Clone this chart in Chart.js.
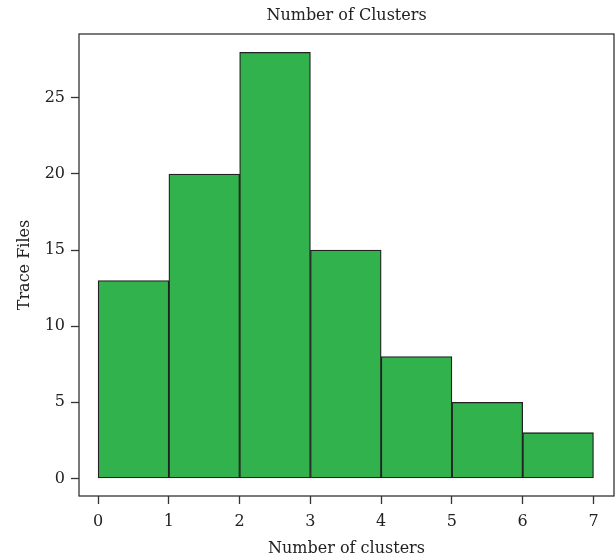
<!DOCTYPE html>
<html>
<head>
<meta charset="utf-8">
<title>Number of Clusters</title>
<script src="https://cdn.jsdelivr.net/npm/chart.js@4.4.1/dist/chart.umd.min.js"></script>
<style>
    html, body { margin: 0; padding: 0; background: #ffffff; }
    #wrap { width: 616px; height: 560px; position: relative; }
</style>
</head>
<body>
<div id="wrap"><canvas id="histChart"></canvas></div>
<script>
// Histogram data: bin edges and counts per bin
const binEdges = [0, 1, 2, 3, 4, 5, 6, 7];
const binCounts = [13, 20, 28, 15, 8, 5, 3];
const xTicks = [0, 1, 2, 3, 4, 5, 6, 7];
const yTicks = [0, 5, 10, 15, 20, 25];

const chartTitle = 'Number of Clusters';
const xLabel = 'Number of clusters';
const yLabel = 'Trace Files';

const serif = "'DejaVu Serif', 'Liberation Serif', serif";
const inkColor = '#222222';

// Bars are centred in their bins on a linear x scale
const barPoints = binCounts.map((count, i) => ({
    x: (binEdges[i] + binEdges[i + 1]) / 2,
    y: count
}));

// Draws the frame round the plot area and the title over its centre
const framePlugin = {
    id: 'frame',
    afterDraw: function (chart) {
        const ctx = chart.ctx;
        const area = chart.chartArea;
        ctx.save();
        ctx.strokeStyle = '#333333';
        ctx.lineWidth = 1.3;
        ctx.strokeRect(area.left, area.top, area.right - area.left, area.bottom - area.top);
        ctx.fillStyle = inkColor;
        ctx.font = '16px ' + serif;
        ctx.textAlign = 'center';
        ctx.textBaseline = 'middle';
        ctx.fillText(chartTitle, (area.left + area.right) / 2, 16);
        ctx.restore();
    }
};

const ctx = document.getElementById('histChart').getContext('2d');
new Chart(ctx, {
    type: 'bar',
    data: {
        datasets: [{
            data: barPoints,
            backgroundColor: '#31b24c',
            borderColor: inkColor,
            borderWidth: 1.3,
            borderSkipped: false,
            barPercentage: 1,
            categoryPercentage: 1
        }]
    },
    options: {
        responsive: true,
        maintainAspectRatio: false,
        animation: false,
        layout: {
            padding: { top: 34, right: 2, bottom: 0, left: 0 }
        },
        plugins: {
            legend: { display: false },
            tooltip: { enabled: false },
            title: { display: false }
        },
        scales: {
            x: {
                type: 'linear',
                offset: false,
                min: -0.27,
                max: 7.29,
                afterFit: function (scale) { scale.height = 64; },
                afterBuildTicks: function (scale) {
                    scale.ticks = xTicks.map(v => ({ value: v }));
                },
                grid: {
                    offset: false,
                    drawOnChartArea: false,
                    drawTicks: true,
                    tickLength: 8,
                    tickWidth: 1.3,
                    tickColor: '#333333'
                },
                border: { display: false },
                ticks: {
                    color: inkColor,
                    padding: 8,
                    maxRotation: 0,
                    font: { family: serif, size: 16 }
                },
                title: {
                    display: true,
                    text: xLabel,
                    color: inkColor,
                    padding: { top: 0, bottom: 2 },
                    font: { family: serif, size: 16 }
                }
            },
            y: {
                type: 'linear',
                min: -1.16,
                max: 29.2,
                afterFit: function (scale) { scale.width = 79; },
                afterBuildTicks: function (scale) {
                    scale.ticks = yTicks.map(v => ({ value: v }));
                },
                grid: {
                    drawOnChartArea: false,
                    drawTicks: true,
                    tickLength: 8,
                    tickWidth: 1.3,
                    tickColor: '#333333'
                },
                border: { display: false },
                ticks: {
                    color: inkColor,
                    padding: 6,
                    font: { family: serif, size: 16 }
                },
                title: {
                    display: true,
                    text: yLabel,
                    color: inkColor,
                    padding: { top: 15, bottom: 0 },
                    font: { family: serif, size: 16 }
                }
            }
        }
    },
    plugins: [framePlugin]
});
</script>
</body>
</html>
